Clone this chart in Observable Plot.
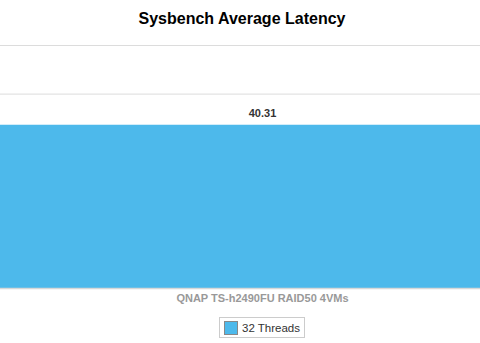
<!DOCTYPE html>
<html>
<head>
<meta charset="utf-8">
<script src="https://cdn.jsdelivr.net/npm/d3@7"></script>
<script src="https://cdn.jsdelivr.net/npm/@observablehq/plot@0.6"></script>
<style>
  body { margin: 0; background: #fff; font-family: "Liberation Sans", Arial, sans-serif; }
  #wrap { width: 480px; height: 343px; position: relative; overflow: hidden; }
  #title { height: 36px; line-height: 38px; text-align: center; font-size: 16px; font-weight: bold; color: #000; padding-left: 4px; }
  #legend { text-align: center; margin-top: 9px; padding-left: 44px; }
  #legend .box { display: inline-flex; align-items: center; border: 1px solid #ccc; padding: 2px 4px 2px 4px; height: 15px; font-size: 11.5px; color: #333; }
  #legend .sw { width: 14px; height: 14px; background: #4db9eb; border: 1px solid #888; margin-right: 4px; box-sizing: border-box; }
</style>
</head>
<body>
<div id="wrap">
  <div id="title">Sysbench Average Latency</div>
  <div id="chart"></div>
  <div id="legend"></div>
</div>
<script>
const categories = ["QNAP TS-h2490FU RAID50 4VMs"];
const values = [40.31];
const series = ["32 Threads"];
const yTicks = [0, 12, 24, 36, 48, 60];
const colors = ["#4db9eb"];

const data = categories.map((c, i) => ({category: c, value: values[i], series: series[0]}));

const chart = Plot.plot({
  width: 480,
  height: 272,
  marginTop: 9,
  marginBottom: 20,
  marginLeft: 0,
  marginRight: 0,
  style: {fontFamily: "Liberation Sans, Arial, sans-serif", background: "#fff"},
  x: {domain: categories, padding: 0, label: null},
  y: {domain: [0, 60], ticks: yTicks, axis: null},
  marks: [
    Plot.gridY(yTicks, {stroke: "#dcdcdc", strokeOpacity: 1, strokeWidth: 1}),
    Plot.barY(data, {x: "category", y: "value", fill: colors[0]}),
    Plot.ruleY([0], {stroke: "#d8d8d8", strokeWidth: 1.5}),
    Plot.text(data, {x: "category", y: "value", text: d => d.value.toFixed(2), dy: -12, dx: 22, fontSize: 11, fontWeight: "bold", fill: "#333"}),
    Plot.axisX({tickSize: 0, tickPadding: 6, dx: 22, fontSize: 11, fontWeight: "bold", color: "#999", label: null})
  ]
});
document.getElementById("chart").appendChild(chart);

const leg = document.getElementById("legend");
series.forEach((s, i) => {
  const box = document.createElement("span");
  box.className = "box";
  const sw = document.createElement("span");
  sw.className = "sw";
  sw.style.background = colors[i];
  box.appendChild(sw);
  box.appendChild(document.createTextNode(s));
  leg.appendChild(box);
});
</script>
</body>
</html>
